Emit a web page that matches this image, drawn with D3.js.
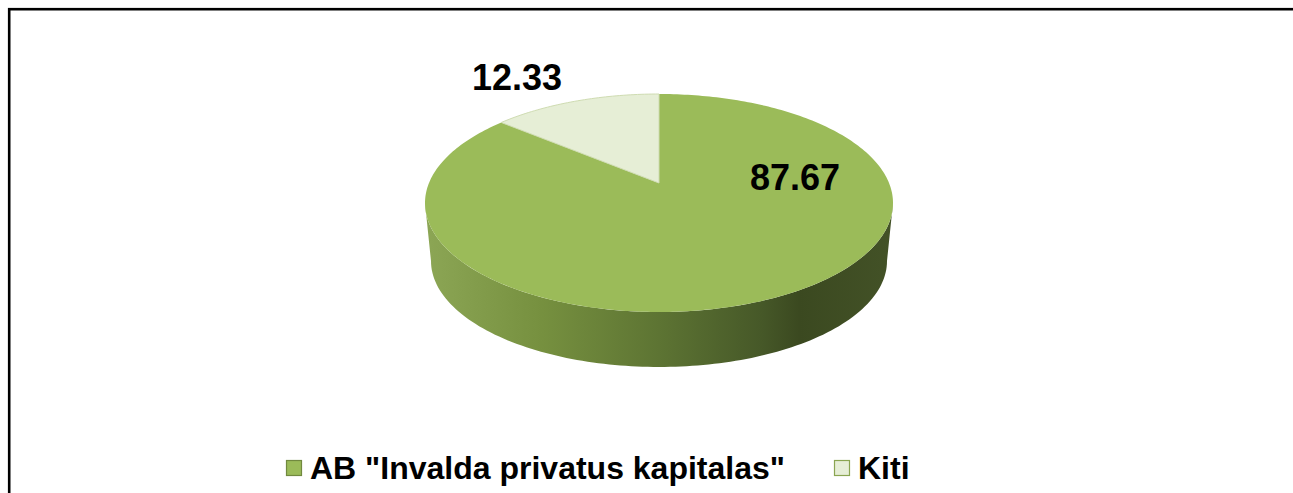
<!DOCTYPE html>
<html>
<head>
<meta charset="utf-8">
<script src="https://cdn.jsdelivr.net/npm/d3@7"></script>
<style>
  html, body { margin: 0; padding: 0; background: #ffffff; overflow: hidden; }
  svg { display: block; }
  text { font-family: "Liberation Sans", Arial, sans-serif; font-weight: bold; }
</style>
</head>
<body>
<svg id="chart" width="1293" height="493"></svg>
<script>
// ---- data ----
const categories = ['AB "Invalda privatus kapitalas"', 'Kiti'];
const values = [87.67, 12.33];
const labels = ['87.67', '12.33'];
const colors = ['#9bbb59', '#e6eed6'];

// ---- layout ----
const svg = d3.select('#chart');

// frame
svg.append('rect')
  .attr('x', 9.2).attr('y', 9.2)
  .attr('width', 1400).attr('height', 600)
  .attr('fill', 'none').attr('stroke', '#000').attr('stroke-width', 2.6);

// 3D pie geometry
const topE = { cx: 659, cy: 203, rx: 234, ry: 109 };
const botE = { cx: 659, cy: 261, rx: 228, ry: 106 };
const apex = [659, 183];

// mild perspective warp of the angle
const warp = a => a - 0.035 * Math.sin(2 * a);
const rim = (e, a) => { const t = warp(a); return [e.cx + e.rx * Math.sin(t), e.cy - e.ry * Math.cos(t)]; };

const pie = d3.pie().sort(null).value(d => d).startAngle(0).endAngle(2 * Math.PI);
const arcs = pie(values);

const defs = svg.append('defs');
const grad = defs.append('linearGradient')
  .attr('id', 'sideGrad').attr('gradientUnits', 'userSpaceOnUse')
  .attr('x1', topE.cx - topE.rx).attr('x2', topE.cx + topE.rx).attr('y1', 0).attr('y2', 0);
[[0, '#8ca655'], [0.25, '#76903f'], [0.5, '#5d7433'], [0.72, '#465828'], [0.8, '#3b4920'], [1, '#435227']]
  .forEach(([o, c]) => grad.append('stop').attr('offset', o).attr('stop-color', c));

// side (front visible wall)
const line = d3.line();
function sidePath() {
  const n = 120, pts = [];
  for (let i = 0; i <= n; i++) pts.push(rim(topE, Math.PI / 2 + Math.PI * i / n));
  for (let i = n; i >= 0; i--) pts.push(rim(botE, Math.PI / 2 + Math.PI * i / n));
  return line(pts) + 'Z';
}
svg.append('path').attr('d', sidePath()).attr('fill', 'url(#sideGrad)');

// top faces
function slicePath(d) {
  const n = Math.max(8, Math.ceil((d.endAngle - d.startAngle) * 60));
  const pts = [apex];
  for (let i = 0; i <= n; i++) pts.push(rim(topE, d.startAngle + (d.endAngle - d.startAngle) * i / n));
  return line(pts) + 'Z';
}
svg.selectAll('path.slice').data(arcs).join('path')
  .attr('class', 'slice')
  .attr('d', slicePath)
  .attr('fill', (d, i) => colors[i])
  .attr('stroke', (d, i) => i === 1 ? '#cfdcb2' : 'none')
  .attr('stroke-width', 1);

// data labels
const labelPos = [[795, 190], [517, 90]];
svg.selectAll('text.lbl').data(arcs).join('text')
  .attr('class', 'lbl')
  .attr('x', (d, i) => labelPos[i][0])
  .attr('y', (d, i) => labelPos[i][1])
  .attr('text-anchor', 'middle')
  .attr('font-size', 36)
  .attr('fill', '#000')
  .text((d, i) => labels[i]);

// legend
const legend = svg.append('g');
const legX = [286, 834];
const legItems = legend.selectAll('g').data(categories).join('g')
  .attr('transform', (d, i) => `translate(${legX[i]},0)`);
legItems.append('rect')
  .attr('x', 0.5).attr('y', 460.5).attr('width', 15).attr('height', 15)
  .attr('fill', (d, i) => colors[i])
  .attr('stroke', (d, i) => i === 0 ? '#71893f' : '#8aa551').attr('stroke-width', 1.2);
legItems.append('text')
  .attr('x', 24).attr('y', 479)
  .attr('font-size', 32)
  .attr('fill', '#000')
  .text(d => d);
</script>
</body>
</html>
